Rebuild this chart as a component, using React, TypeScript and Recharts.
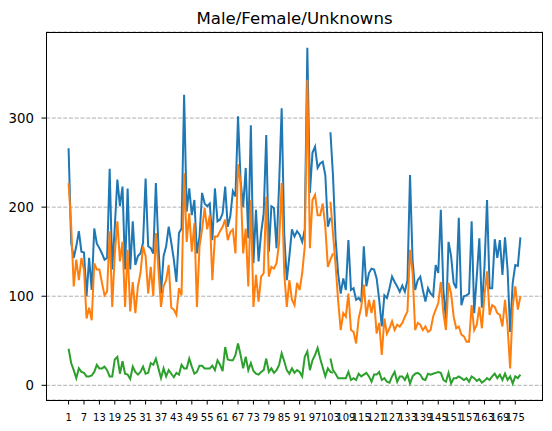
import { LineChart, Line, XAxis, YAxis, CartesianGrid } from 'recharts'

// daily counts; the series restart at day 103
const maleA = [
  266, 160, 143, 156, 173, 150, 149, 100, 143, 107, 176, 159, 154, 148, 141, 143,
  243, 130, 178, 231, 201, 223, 130, 221, 130, 184, 135, 145, 148, 160, 232,
  156, 154, 148, 227, 156, 103, 145, 156, 178, 160, 141, 116, 171, 176, 326, 195,
  221, 191, 208, 148, 167, 216, 204, 201, 204, 163, 221, 184, 186, 193, 223, 178,
  190, 218,
  212, 302, 230, 200, 244, 165, 292, 137, 197, 139, 171, 193, 281, 150, 201, 199,
  154, 225, 311, 170, 118, 145, 175, 167, 173, 169, 161, 175, 379, 216, 261, 268,
  244,
  249, 251, 236, 178, 188,
]
const maleB = [
  284, 235, 165, 125, 103, 120, 107, 163, 107, 109, 96, 98, 94, 156, 111, 126,
  131, 130, 120, 96, 66, 101, 98, 109, 122, 116, 111, 105, 112, 105, 118, 236,
  140, 107, 118, 122, 107, 94, 109, 103, 100, 135, 126, 197, 107, 73, 161, 145,
  115, 109, 188, 90, 100, 101, 103, 184, 81, 122, 165, 87, 133, 208, 109, 109,
  164, 143, 163, 124, 166, 130, 60, 115, 135, 134, 166,
]
const femaleA = [
  227, 180, 111, 141, 118, 143, 130, 75, 87, 73, 137, 130, 130, 115, 101, 105,
  173, 88, 148, 184, 139, 161, 88, 152, 83, 116, 81, 111, 126, 156, 145, 103,
  133, 100, 171, 130, 88, 111, 118, 135, 87, 85, 79, 109, 101, 238, 161, 193,
  150, 182, 88, 156, 175, 199, 175, 191, 118, 167, 167, 173, 178, 186, 163, 172,
  175,
  148, 248, 227, 148, 176, 111, 208, 88, 124, 94, 122, 126, 212, 122, 133, 131,
  137, 160, 227, 126, 88, 118, 96, 90, 115, 107, 126, 156, 343, 154, 208, 214,
  191,
  191, 204, 178, 133, 141, 148,
]
const femaleB = [
  206, 170, 135, 95, 62, 81, 77, 103, 62, 60, 47, 75, 88, 113, 77, 96,
  81, 96, 58, 70, 34, 75, 58, 64, 72, 62, 68, 66, 70, 77, 83, 152,
  126, 62, 70, 68, 62, 66, 60, 62, 77, 85, 92, 116, 81, 62, 115, 103,
  77, 64, 66, 57, 55, 49, 49, 90, 62, 68, 88, 64, 101, 128, 79, 90,
  88, 81, 79, 66, 96, 66, 19, 88, 111, 85, 100,
]
const unknownA = [
  41, 25, 17, 8, 19, 15, 14, 10, 10, 11, 15, 23, 19, 19, 21, 17,
  10, 10, 29, 32, 13, 27, 13, 12, 7, 21, 15, 12, 15, 21, 13, 14,
  25, 23, 30, 19, 8, 19, 10, 17, 13, 9, 14, 12, 23, 19, 19, 30,
  21, 13, 15, 22, 22, 19, 19, 19, 22, 17, 28, 23, 16, 43, 29, 28,
  28,
  34, 47, 34, 19, 32, 17, 25, 16, 13, 12, 15, 17, 30, 15, 19, 14,
  17, 23, 36, 27, 17, 13, 19, 14, 17, 15, 10, 32, 38, 17, 28, 34,
  42,
  30, 20, 10, 19, 15, 14,
]
const unknownB = [
  30, 17, 13, 8, 8, 8, 8, 15, 6, 8, 6, 13, 10, 12, 14, 10,
  4, 12, 12, 15, 6, 8, 4, 3, 10, 15, 4, 10, 10, 6, 12, 2,
  10, 13, 14, 12, 7, 6, 13, 12, 13, 14, 15, 14, 6, 4, 14, 2,
  8, 8, 10, 8, 6, 8, 4, 10, 8, 5, 7, 3, 5, 8, 6, 10,
  13, 8, 12, 6, 13, 6, 10, 2, 10, 8, 12,
]
const B_START = 102
const dayTicks = Array.from({ length: 30 }, (_, i) => i * 6)
const countTicks = [0, 100, 200, 300]

const total = B_START + maleB.length
const data = Array.from({ length: total }, (_, i) => ({
  x: i,
  maleA: i < maleA.length ? maleA[i] : null,
  maleB: i >= B_START ? maleB[i - B_START] : null,
  femaleA: i < femaleA.length ? femaleA[i] : null,
  femaleB: i >= B_START ? femaleB[i - B_START] : null,
  unknownA: i < unknownA.length ? unknownA[i] : null,
  unknownB: i >= B_START ? unknownB[i - B_START] : null,
}))

const font = 'DejaVu Sans, sans-serif'
const pad = (total - 1) * 0.05

export default function App() {
  const lines = [
    ['maleA', '#1f77b4'],
    ['maleB', '#1f77b4'],
    ['femaleA', '#ff7f0e'],
    ['femaleB', '#ff7f0e'],
    ['unknownA', '#2ca02c'],
    ['unknownB', '#2ca02c'],
  ]
  return (
    <div style={{ position: 'absolute', left: 0, top: 0, width: 552, height: 431, background: '#fff', fontFamily: font }}>
      <div
        style={{
          position: 'absolute',
          left: 46,
          top: 10.5,
          width: 497,
          textAlign: 'center',
          fontSize: 16.6,
          lineHeight: '16.6px',
          color: '#000',
        }}
      >
        Male/Female/Unknowns
      </div>
      <LineChart width={552} height={431} data={data} margin={{ top: 32, right: 9, bottom: 6, left: 0 }}>
        <CartesianGrid vertical={false} stroke="#b0b0b0" strokeDasharray="4 1.75" />
        <XAxis
          dataKey="x"
          type="number"
          domain={[-pad, total - 1 + pad]}
          ticks={dayTicks}
          interval={0}
          tickFormatter={(v) => String(v + 1)}
          height={25}
          axisLine={false}
          tickLine={{ stroke: '#000' }}
          tickSize={4.5}
          tickMargin={9}
          tick={{ fill: '#000', fontSize: 10, fontFamily: font }}
          allowDataOverflow
        />
        <YAxis
          type="number"
          domain={[-16.5, 396.6]}
          ticks={countTicks}
          width={46}
          axisLine={false}
          tickLine={{ stroke: '#000' }}
          tickSize={4.5}
          tickMargin={7.5}
          tick={{ fill: '#000', fontSize: 13.3, fontFamily: font }}
          allowDataOverflow
        />
        {lines.map(([key, color]) => (
          <Line
            key={key}
            dataKey={key}
            stroke={color}
            strokeWidth={2}
            dot={false}
            type="linear"
            isAnimationActive={false}
          />
        ))}
      </LineChart>
      <div
        style={{
          position: 'absolute',
          left: 46,
          top: 32,
          width: 497,
          height: 369,
          border: '1px solid #000',
          boxSizing: 'border-box',
          pointerEvents: 'none',
        }}
      />
    </div>
  )
}
